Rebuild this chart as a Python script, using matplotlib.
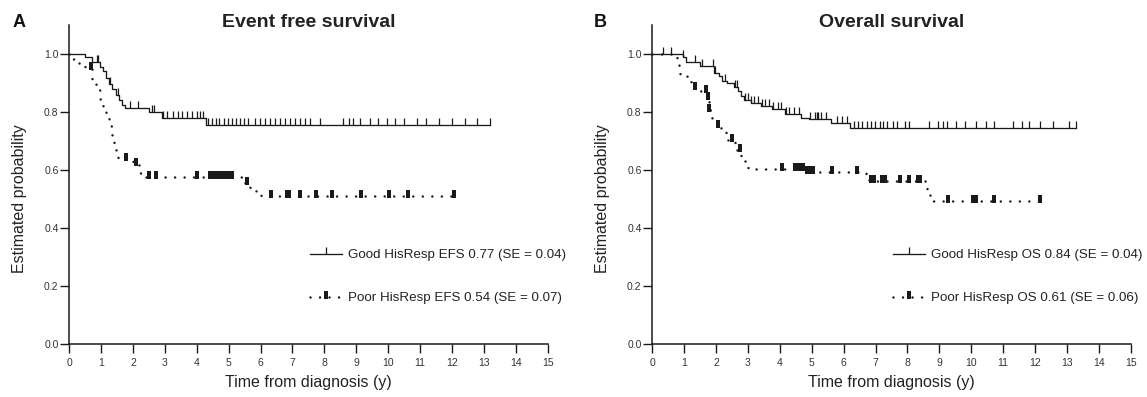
import matplotlib
matplotlib.use("Agg")
import matplotlib.pyplot as plt
import numpy as np

plt.rcParams['font.family'] = ['Liberation Sans', 'DejaVu Sans']

# Event free survival (panel A)
efs_good_t = [0, 0.48, 0.70, 0.95, 1.05, 1.15, 1.25, 1.35, 1.45, 1.55, 1.65, 1.75, 2.50, 2.90, 4.30, 13.2]
efs_good_s = [1.0, 0.99, 0.972, 0.957, 0.94, 0.917, 0.897, 0.879, 0.86, 0.842, 0.825, 0.814, 0.80, 0.779, 0.757, 0.757]
efs_good_cens = [0.86, 0.91, 1.28, 1.54, 1.9, 2.17, 2.6, 2.65, 2.95, 3.06, 3.26, 3.4, 3.55, 3.7, 3.85, 4.0,
                 4.1, 4.2, 4.35, 4.47, 4.6, 4.7, 4.85, 4.98, 5.1, 5.23, 5.36, 5.48, 5.6, 5.83, 5.98, 6.14,
                 6.3, 6.45, 6.61, 6.77, 6.93, 7.08, 7.24, 7.4, 7.55, 7.87, 8.59, 8.78, 8.9, 9.12, 9.43,
                 9.68, 9.96, 10.22, 10.5, 10.9, 11.2, 11.6, 12.0, 12.4, 12.8, 13.2]

efs_poor_t = [0, 0.1, 0.3, 0.5, 0.7, 0.85, 0.95, 1.05, 1.15, 1.25, 1.33, 1.40, 1.46, 1.53, 2.0, 2.2, 2.35,
              5.5, 5.68, 5.85, 6.0, 12.05]
efs_poor_s = [1.0, 0.983, 0.969, 0.952, 0.915, 0.877, 0.846, 0.82, 0.788, 0.753, 0.722, 0.693, 0.664, 0.638,
              0.622, 0.59, 0.577, 0.555, 0.54, 0.523, 0.51, 0.51]
efs_poor_cens = [0.68, 1.78, 2.09, 2.5, 2.72, 4.0, 4.4, 4.5, 4.6, 4.7, 4.8, 4.9, 5.0, 5.1, 5.58, 6.33, 6.82,
                 6.9, 7.24, 7.73, 8.25, 9.15, 10.03, 10.62, 12.05]

# Overall survival (panel B)
os_good_t = [0, 0.95, 1.05, 1.5, 1.95, 2.08, 2.2, 2.35, 2.55, 2.68, 2.78, 2.88, 3.1, 3.4, 3.75, 4.15, 4.65,
             4.9, 5.6, 6.2, 13.3]
os_good_s = [1.0, 0.99, 0.971, 0.96, 0.934, 0.923, 0.906, 0.9, 0.888, 0.871, 0.854, 0.842, 0.831, 0.822,
             0.81, 0.793, 0.781, 0.776, 0.762, 0.745, 0.745]
os_good_cens = [0.33, 0.6, 0.96, 1.34, 1.55, 1.9, 1.96, 2.28, 2.59, 2.66, 2.9, 3.0, 3.1, 3.2, 3.3, 3.45,
                3.55, 3.65, 3.8, 3.95, 4.05, 4.2, 4.3, 4.45, 4.6, 4.95, 5.1, 5.15, 5.2, 5.3, 5.45, 5.8,
                5.95, 6.1, 6.34, 6.45, 6.57, 6.74, 6.85, 6.97, 7.14, 7.25, 7.37, 7.54, 7.66, 7.94, 8.05,
                8.68, 8.96, 9.13, 9.24, 9.52, 9.82, 10.16, 10.45, 10.73, 11.3, 11.59, 11.8, 12.16, 12.56,
                13.07, 13.29]

os_poor_t = [0, 0.78, 0.85, 0.88, 1.1, 1.22, 1.3, 1.5, 1.72, 1.77, 1.88, 2.02, 2.15, 2.3, 2.6, 2.78, 2.9,
             3.0, 4.79, 6.7, 6.8, 8.6, 8.7, 12.16]
os_poor_s = [1.0, 0.983, 0.957, 0.929, 0.917, 0.9, 0.883, 0.871, 0.848, 0.808, 0.776, 0.753, 0.736, 0.705,
             0.67, 0.647, 0.622, 0.604, 0.593, 0.578, 0.561, 0.526, 0.495, 0.495]
os_poor_cens = [1.34, 1.67, 1.75, 1.79, 2.07, 2.49, 2.75, 4.06, 4.47, 4.55, 4.63, 4.73, 4.84, 4.95, 5.05,
                5.62, 6.41, 6.86, 6.95, 7.2, 7.3, 7.77, 8.05, 8.33, 8.4, 9.27, 10.05, 10.15, 10.73, 12.16]

panels = [
    ('A', 'Event free survival',
     (efs_good_t, efs_good_s, efs_good_cens, 'Good HisResp EFS 0.77 (SE = 0.04)'),
     (efs_poor_t, efs_poor_s, efs_poor_cens, 'Poor HisResp EFS 0.54 (SE = 0.07)')),
    ('B', 'Overall survival',
     (os_good_t, os_good_s, os_good_cens, 'Good HisResp OS 0.84 (SE = 0.04)'),
     (os_poor_t, os_poor_s, os_poor_cens, 'Poor HisResp OS 0.61 (SE = 0.06)')),
]


def km_at(times, values, t):
    idx = np.searchsorted(times, t, side='right') - 1
    return np.asarray(values)[idx]


# petit rectangle plein pour les censures du groupe "poor"
block = [(-0.35, -0.25), (0.35, -0.25), (0.35, 1.0), (-0.35, 1.0), (-0.35, -0.25)]
dots = (0, (0.01, 3.8))

fig = plt.figure(figsize=(11.47, 3.97), dpi=100)
lefts = [0.0604, 0.5687]
label_x = [0.011, 0.518]
ylabel_x = [0.017, 0.525]
ink = '#1a1a1a'

for i, (letter, title, good, poor) in enumerate(panels):
    ax = fig.add_axes([lefts[i], 0.1327, 0.4170, 0.8043])

    gt, gs, gc, glab = good
    pt, ps, pc, plab = poor

    ax.step(gt, gs, where='post', color=ink, lw=0.95)
    ax.plot(gc, km_at(gt, gs, gc), ls='none', marker=2, ms=5, mew=0.9, color=ink)

    ax.step(pt, ps, where='post', color=ink, lw=1.8, ls=dots, dash_capstyle='round')
    ax.plot(pc, km_at(pt, ps, pc), ls='none', marker=block, ms=9, mew=0, color=ink)

    ax.set_xlim(0, 15)
    ax.set_ylim(0, 1.1)
    ax.set_xticks(range(0, 16))
    ax.set_yticks(np.arange(0, 1.01, 0.2))
    ax.set_yticklabels(['%.1f' % v for v in np.arange(0, 1.01, 0.2)])
    for s in ['top', 'right']:
        ax.spines[s].set_visible(False)
    for s in ['left', 'bottom']:
        ax.spines[s].set_linewidth(1.1)
        ax.spines[s].set_color(ink)
    ax.tick_params(axis='both', direction='out', length=6.2, width=1.0, color=ink,
                   labelsize=7.5, labelcolor='#333333')
    ax.tick_params(axis='x', pad=4)
    ax.tick_params(axis='y', pad=1.5)

    ax.set_xlabel('Time from diagnosis (y)', fontsize=11.5, color='#222222', labelpad=5)
    fig.text(ylabel_x[i], 0.5, 'Estimated probability', rotation=90, fontsize=11.5,
             color='#222222', ha='center', va='center')
    ax.text(0.5, 0.994, title, transform=ax.transAxes, ha='center', va='baseline',
            fontsize=14, fontweight='bold', color='#222222')
    fig.text(label_x[i], 0.932, letter, fontsize=13, fontweight='bold', color='#111111',
             ha='left', va='baseline')

    h_good = plt.Line2D([], [], color=ink, lw=0.95, marker=2, ms=5, mew=0.9)
    h_poor = plt.Line2D([], [], color=ink, lw=1.8, ls=dots, dash_capstyle='round',
                        marker=block, ms=9, mew=0)
    ax.legend([h_good, h_poor], [glab, plab], loc='upper left',
              bbox_to_anchor=(0.503, 0.298), frameon=False, fontsize=9.6,
              handlelength=2.4, handletextpad=0.45, labelspacing=2.3,
              numpoints=1, borderpad=0, borderaxespad=0, labelcolor='#222222')

fig.savefig('out.png', dpi=100)
